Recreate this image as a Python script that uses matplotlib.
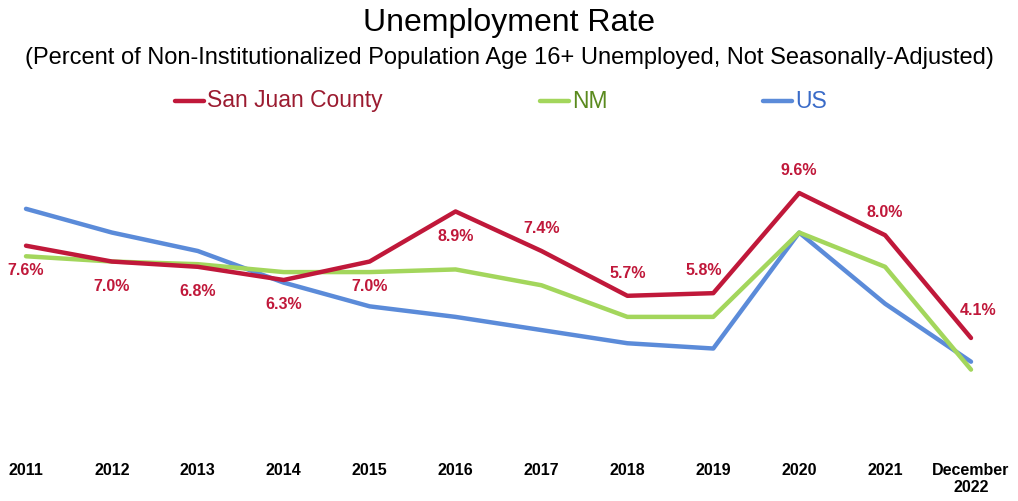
import numpy as np
import matplotlib
matplotlib.use("Agg")
from matplotlib import pyplot as plt

plt.rcParams['font.family'] = ['Liberation Sans', 'DejaVu Sans']

years = ['2011', '2012', '2013', '2014', '2015', '2016', '2017', '2018',
         '2019', '2020', '2021', 'December\n2022']
san_juan = [7.6, 7.0, 6.8, 6.3, 7.0, 8.9, 7.4, 5.7, 5.8, 9.6, 8.0, 4.1]
nm = [7.2, 7.0, 6.9, 6.6, 6.6, 6.7, 6.1, 4.9, 4.9, 8.1, 6.8, 2.9]
us = [9.0, 8.1, 7.4, 6.2, 5.3, 4.9, 4.4, 3.9, 3.7, 8.1, 5.4, 3.2]
# label position: -1 below the point, 1 above
lbl_side = [-1, -1, -1, -1, -1, -1, 1, 1, 1, 1, 1, 1]

red = '#c0183a'
green = '#a3d65c'
blue = '#5b8bd9'

fig = plt.figure(figsize=(10.18, 5.01), dpi=100)
ax = fig.add_axes([26/1018, 0.1623, (971-26)/1018, 0.4998])

x = np.arange(len(years))
ax.plot(x, us, color=blue, lw=3.2, solid_capstyle='round', clip_on=False, label='US', zorder=2)
ax.plot(x, nm, color=green, lw=3.2, solid_capstyle='round', clip_on=False, label='NM', zorder=3)
ax.plot(x, san_juan, color=red, lw=3.2, solid_capstyle='round', clip_on=False, label='San Juan County', zorder=4)

for i, (xi, v, s) in enumerate(zip(x, san_juan, lbl_side)):
    dy = 16 if s > 0 else -18
    dx = 0
    if i == len(x) - 1:
        dx, dy = 5, 20
    elif i == 8:
        dx = -7
    ax.annotate('%.1f%%' % v, (xi, v), xytext=(dx, dy), textcoords='offset points',
                ha='center', va='center', color=red, fontsize=11.5, fontweight='bold')

ax.set_xlim(0, 11)
ax.set_ylim(1, 10.5)
ax.set_xticks(x)
ax.set_xticklabels(years, fontsize=11.5, fontweight='bold', va='top')
ax.tick_params(axis='x', length=0, pad=31)
ax.set_yticks([])
for sp in ax.spines.values():
    sp.set_visible(False)

fig.text(0.5, 0.955, 'Unemployment Rate', ha='center', va='center', fontsize=23)
fig.text(0.5, 0.884, '(Percent of Non-Institutionalized Population Age 16+ Unemployed, Not Seasonally-Adjusted)',
         ha='center', va='center', fontsize=17)

# legend drawn by hand to match colored text
leg = [('San Juan County', red, '#9b1b30', 175), ('NM', green, '#5a8a1e', 540), ('US', blue, '#3a6bc8', 763)]
for name, c, tc, px in leg:
    yy = 1 - 101/501
    fig.add_artist(plt.Line2D([px/1018, (px+29)/1018], [yy, yy], color=c, lw=3.2, solid_capstyle='round'))
    fig.text((px+32)/1018, yy, name, color=tc, fontsize=16.5, ha='left', va='center')

plt.savefig('out.png', dpi=100)
